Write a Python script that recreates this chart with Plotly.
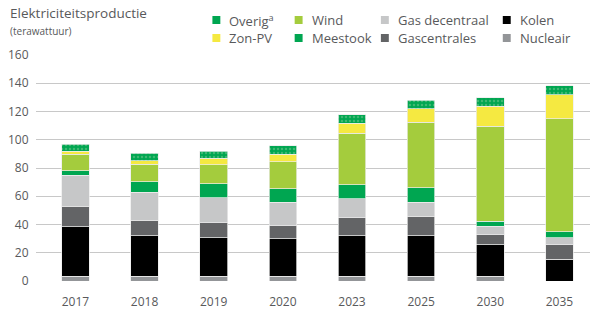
import plotly.graph_objects as go

years = ["2017", "2018", "2019", "2020", "2023", "2025", "2030", "2035"]
nucleair = [3.5, 3.5, 3.5, 3.5, 3.5, 3.5, 3.5, 0]
kolen = [35, 28.6, 27.2, 26.5, 28.6, 28.6, 22, 15.3]
gascentrales = [14.5, 10.9, 10.4, 9.2, 12.7, 13.7, 7.1, 10.2]
gas_decentraal = [22, 19.8, 17.9, 16.5, 13.3, 9.9, 6.3, 5.2]
meestook = [3, 7.5, 9.9, 9.6, 10.1, 10.4, 3.4, 4.0]
wind = [11.6, 12.3, 13.4, 19.2, 36.4, 46.3, 67.2, 80.2]
zon_pv = [2.1, 2.6, 4.6, 5.2, 7.0, 9.6, 14.2, 16.8]
overig = [5.2, 5.2, 5.1, 5.9, 6.1, 6.1, 5.9, 6.6]

y_ticks = [0, 20, 40, 60, 80, 100, 120, 140, 160]

series = [
    ("Nucleair", nucleair, "#939598"),
    ("Kolen", kolen, "#000000"),
    ("Gascentrales", gascentrales, "#636466"),
    ("Gas decentraal", gas_decentraal, "#c6c7c8"),
    ("Meestook", meestook, "#00a651"),
    ("Wind", wind, "#a4cc3d"),
    ("Zon-PV", zon_pv, "#f5e941"),
    ("Overig<sup>a</sup>", overig, "#00a651"),
]

FONT = "Open Sans"
GRAY = "#58595b"

fig = go.Figure()
for name, vals, col in series:
    marker = dict(color=col, line=dict(color="rgba(235,235,235,0.9)", width=0.8))
    if name.startswith("Overig"):
        marker["pattern"] = dict(shape=".", bgcolor=col, fgcolor="#3fb872",
                                 size=4, solidity=0.3, fillmode="replace")
    fig.add_trace(go.Bar(x=years, y=vals, name=name, marker=marker,
                         width=0.4, showlegend=False))

# manual legend
legend_rows = [
    ["Overig<sup>a</sup>", "Wind", "Gas decentraal", "Kolen"],
    ["Zon-PV", "Meestook", "Gascentrales", "Nucleair"],
]
colmap = {n: c for n, _, c in series}
col_x = [213, 296, 383, 506]
row_y = [20, 38]
W, H = 598, 332
ml, mr, mt, mb = 31, 8, 55, 51
pw, ph = W - ml - mr, H - mt - mb

def px_to_paper_x(x):
    return (x - ml) / pw

def px_to_paper_y(y):
    return (H - mb - y) / ph

shapes = []
annotations = []
for r, row in enumerate(legend_rows):
    for c, name in enumerate(row):
        cx, cy = col_x[c], row_y[r]
        shapes.append(dict(type="rect", xref="paper", yref="paper",
                           x0=px_to_paper_x(cx - 4), x1=px_to_paper_x(cx + 4),
                           y0=px_to_paper_y(cy + 4), y1=px_to_paper_y(cy - 4),
                           fillcolor=colmap[name], line=dict(width=0)))
        annotations.append(dict(text=name, xref="paper", yref="paper",
                                x=px_to_paper_x(cx + 11), y=px_to_paper_y(cy),
                                xanchor="left", yanchor="middle", showarrow=False,
                                font=dict(family=FONT, size=13, color=GRAY)))

annotations.append(dict(text="Elektriciteitsproductie", xref="paper", yref="paper",
                        x=px_to_paper_x(3), y=px_to_paper_y(13), xanchor="left",
                        yanchor="middle", showarrow=False,
                        font=dict(family=FONT, size=13.5, color=GRAY)))
annotations.append(dict(text="(terawattuur)", xref="paper", yref="paper",
                        x=px_to_paper_x(3), y=px_to_paper_y(31), xanchor="left",
                        yanchor="middle", showarrow=False,
                        font=dict(family=FONT, size=10, color=GRAY)))

# cover the start of the zero gridline (reference zero line starts later)
shapes.append(dict(type="line", xref="paper", yref="y", x0=0, x1=px_to_paper_x(43),
                   y0=0, y1=0, line=dict(color="white", width=2), layer="above"))

fig.update_layout(
    barmode="stack",
    width=W, height=H,
    margin=dict(l=ml, r=mr, t=mt, b=mb),
    plot_bgcolor="white", paper_bgcolor="white",
    shapes=shapes, annotations=annotations,
    font=dict(family=FONT, color=GRAY),
    xaxis=dict(range=[-0.57, 7.442], showgrid=False, showline=False, zeroline=False,
               ticks="outside", ticklen=10, tickcolor="rgba(0,0,0,0)",
               tickfont=dict(family=FONT, size=12, color=GRAY), fixedrange=True),
    yaxis=dict(range=[0, 160], tickvals=y_ticks, showgrid=True, gridcolor="#c8c8c8",
               gridwidth=1, zeroline=False, showline=False,
               ticks="outside", ticklen=4, tickcolor="rgba(0,0,0,0)",
               tickfont=dict(family=FONT, size=12, color=GRAY), fixedrange=True),
)

fig.write_html("out.html")
